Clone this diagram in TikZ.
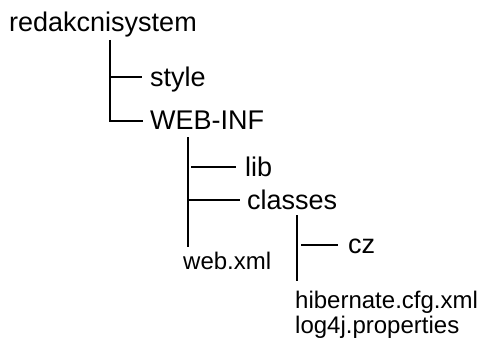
\documentclass[tikz,border=0pt]{standalone}
\usepackage{fontspec}
\setmainfont{Liberation Sans}
\begin{document}
\begin{tikzpicture}[x=1pt,y=-1pt,
  dir/.style={anchor=base west,inner sep=0pt,font=\fontsize{27}{31}\selectfont},
  file/.style={anchor=base west,inner sep=0pt,font=\fontsize{24}{28}\selectfont},
  tree/.style={line width=1.5pt,black}]
\useasboundingbox (0,0) rectangle (478,342);
% folder and file names
\node[dir]  (root)    at (9,32)    {redakcnisystem};
\node[dir]  (style)   at (150,87)  {style};
\node[dir]  (webinf)  at (150,129) {WEB-INF};
\node[dir]  (lib)     at (245,176) {lib};
\node[dir]  (classes) at (247,209) {classes};
\node[file] (webxml)  at (183,269) {web.xml};
\node[dir]  (cz)      at (348,253) {cz};
\node[file] (hib)     at (295,308) {hibernate.cfg.xml};
\node[file] (log)     at (295,333) {log4j.properties};
% tree connectors
\coordinate (r0) at (110,40);
\coordinate (r1) at (110,121);
\draw[tree] (r0) -- (r1) -- (143,121);
\draw[tree] (110,77) -- (142,77);
\coordinate (w0) at (188,137);
\coordinate (w1) at (188,247);
\draw[tree] (w0) -- (w1);
\draw[tree] (191,167) -- (236,167);
\draw[tree] (188,200) -- (240,200);
\coordinate (c0) at (297,215);
\coordinate (c1) at (297,281);
\draw[tree] (c0) -- (c1);
\draw[tree] (301,245) -- (338,245);
\end{tikzpicture}
\end{document}
